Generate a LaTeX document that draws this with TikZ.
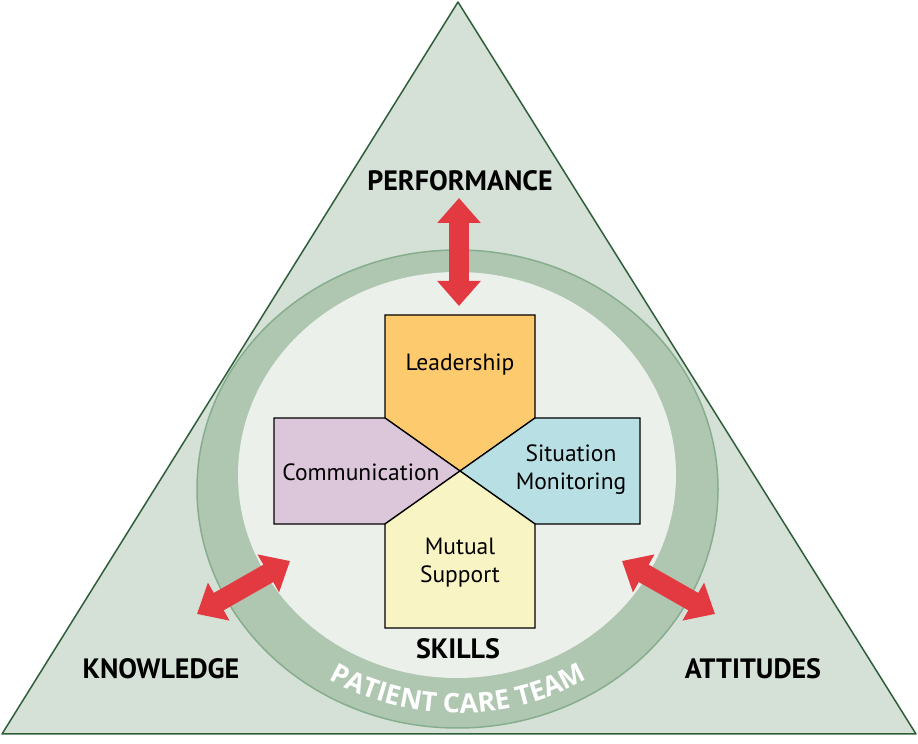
\documentclass[tikz,border=0pt]{standalone}
\usepackage{fontspec}
\setmainfont{PT Sans}
\newfontfamily\ringfam{Open Sans}
\usetikzlibrary{arrows.meta,decorations.text}
\definecolor{triFill}{HTML}{D5E0D6}
\definecolor{triLine}{HTML}{2E5E3A}
\definecolor{ringFill}{HTML}{AFC7B1}
\definecolor{ringLine}{HTML}{86AE8E}
\definecolor{innerFill}{HTML}{EBF0EA}
\definecolor{leadC}{HTML}{FDCB6E}
\definecolor{commC}{HTML}{DCC6DA}
\definecolor{sitC}{HTML}{B8E0E4}
\definecolor{mutC}{HTML}{F8F4C4}
\definecolor{arrowRed}{HTML}{E33A41}
\newcommand{\ringfont}{\ringfam\bfseries\fontsize{27}{27}\selectfont\color{white}}
\begin{document}
\begin{tikzpicture}[x=1pt,y=1pt,
  petal/.style={draw=black,line width=1.3pt,line join=miter},
  label/.style={font=\fontsize{23.5}{28}\selectfont,align=center,text=black},
  biglabel/.style={font=\bfseries\fontsize{28}{30}\selectfont,text=black},
  bigarrow/.style={draw=arrowRed,line width=20pt,
    {Triangle[width=42pt,length=25pt]}-{Triangle[width=42pt,length=25pt]},
    arrowRed}]
\useasboundingbox (0,0) rectangle (918,744);
% triangle
\draw[fill=triFill,draw=triLine,line width=1.5pt,line join=round] (458,742) -- (2,10) -- (916,10) -- cycle;
% ring
\draw[fill=ringFill,draw=ringLine,line width=1.5pt] (457.5,255) ellipse [x radius=260.5, y radius=239];
\fill[innerFill] (457,269) ellipse [x radius=219, y radius=203];
% ring text
\path[decorate,decoration={text along path,text align=center,
  text={|\ringfont|PATIENT CARE TEAM}}]
  (458,255) ++(212:245 and 224) arc[start angle=212,end angle=328,x radius=245,y radius=224];
% cross
\coordinate (ctr) at (460,273);
\draw[petal,fill=leadC] (385,429) -- (535,429) -- (535,326) -- (ctr) -- (385,326) -- cycle;
\draw[petal,fill=commC] (274,326) -- (385,326) -- (ctr) -- (385,220) -- (274,220) -- cycle;
\draw[petal,fill=sitC] (535,326) -- (640,326) -- (640,220) -- (535,220) -- (ctr) -- cycle;
\draw[petal,fill=mutC] (385,220) -- (ctr) -- (535,220) -- (535,116) -- (385,116) -- cycle;
\node[label] (lead) at (460,379) {Leadership};
\node[label] (comm) at (361,272) {Communication};
\node[label] (sit) at (571,274) {Situation\\Monitoring};
\node[label] (mut) at (460,181) {Mutual\\Support};
% outer labels
\node[biglabel] (perf) at (460,563) {PERFORMANCE};
\node[biglabel] (skills) at (458,95) {SKILLS};
\node[biglabel] (know) at (161,75) {KNOWLEDGE};
\node[biglabel] (att) at (753,75) {ATTITUDES};
% arrows
\coordinate (tA) at (459,546);
\coordinate (tB) at (459,438);
\coordinate (lA) at (290,183);
\coordinate (lB) at (197,130);
\coordinate (rA) at (622,183);
\coordinate (rB) at (715,130);
\draw[bigarrow] (tA) -- (tB);
\draw[bigarrow] (lA) -- (lB);
\draw[bigarrow] (rA) -- (rB);
\end{tikzpicture}
\end{document}
